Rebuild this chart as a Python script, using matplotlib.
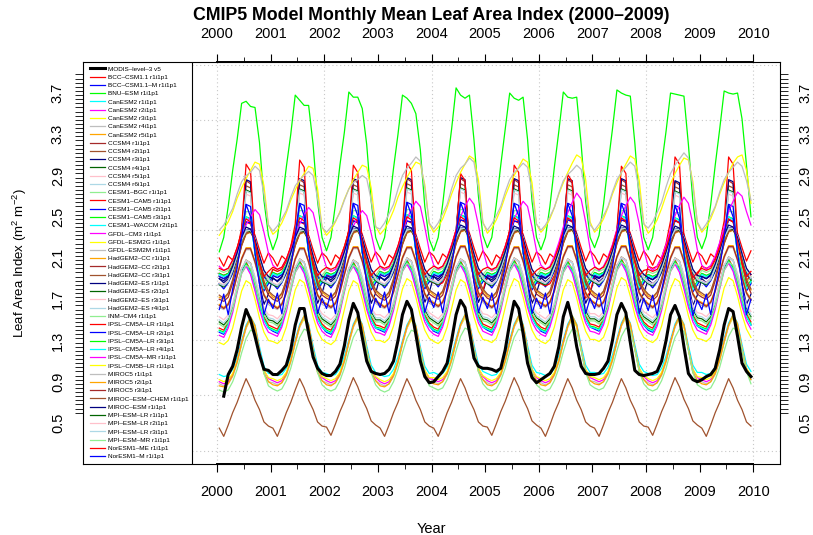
import numpy as np
import matplotlib.pyplot as plt
from matplotlib.patches import Rectangle

plt.rcParams['font.family'] = ['Liberation Sans', 'DejaVu Sans']
plt.rcParams['mathtext.fontset'] = 'custom'
plt.rcParams['mathtext.rm'] = 'Liberation Sans'
plt.rcParams['mathtext.it'] = 'Liberation Sans:italic'

# ---------------------------------------------------------------- data
year_ticks = list(range(2000, 2011))
lai_ticks = [0.5, 0.9, 1.3, 1.7, 2.1, 2.5, 2.9, 3.3, 3.7]

# MODIS monthly mean LAI, Jan 2000 .. Dec 2009 (Jan 2000 missing)
modis = [
    np.nan, 0.76, 0.97, 1.05, 1.21, 1.43, 1.60, 1.50, 1.34, 1.16, 1.02, 1.01,
    0.97, 0.97, 1.01, 1.06, 1.21, 1.45, 1.61, 1.61, 1.37, 1.14, 1.03, 0.98,
    0.96, 0.96, 1.00, 1.07, 1.25, 1.50, 1.66, 1.57, 1.33, 1.10, 1.00, 0.98,
    0.97, 0.98, 1.02, 1.10, 1.30, 1.55, 1.68, 1.60, 1.36, 1.10, 0.95, 0.89,
    0.90, 0.95, 1.00, 1.08, 1.30, 1.55, 1.69, 1.62, 1.38, 1.13, 1.05, 1.03,
    1.03, 1.02, 1.00, 1.03, 1.21, 1.47, 1.68, 1.61, 1.37, 1.08, 0.94, 0.89,
    0.92, 0.95, 0.98, 1.05, 1.24, 1.53, 1.67, 1.50, 1.24, 1.05, 0.98, 0.97,
    0.97, 0.98, 1.03, 1.10, 1.30, 1.55, 1.66, 1.57, 1.28, 1.01, 0.97, 0.96,
    0.97, 0.98, 1.00, 1.10, 1.30, 1.55, 1.64, 1.53, 1.24, 0.98, 0.92, 0.90,
    0.92, 0.95, 0.97, 1.03, 1.21, 1.45, 1.61, 1.58, 1.34, 1.08, 1.00, 0.95,
]

bnu_esm = [
    2.16, 2.30, 2.60, 2.95, 3.25, 3.60, 3.62, 3.57, 3.56, 3.22, 2.66, 2.32,
    2.18, 2.30, 2.62, 2.98, 3.30, 3.68, 3.63, 3.58, 3.58, 3.20, 2.65, 2.30,
    2.17, 2.30, 2.62, 3.00, 3.32, 3.71, 3.66, 3.66, 3.55, 3.20, 2.65, 2.30,
    2.18, 2.30, 2.60, 2.97, 3.30, 3.68, 3.65, 3.60, 3.50, 3.15, 2.60, 2.28,
    2.17, 2.30, 2.62, 3.00, 3.35, 3.75, 3.68, 3.65, 3.68, 3.25, 2.70, 2.32,
    2.20, 2.30, 2.62, 3.00, 3.35, 3.70, 3.65, 3.63, 3.66, 3.25, 2.65, 2.30,
    2.18, 2.30, 2.60, 2.98, 3.33, 3.71, 3.66, 3.65, 3.66, 3.20, 2.65, 2.30,
    2.20, 2.32, 2.62, 3.00, 3.35, 3.73, 3.70, 3.68, 3.67, 3.22, 2.66, 2.30,
    2.18, 2.30, 2.60, 3.00, 3.33, 3.70, 3.69, 3.68, 3.67, 3.20, 2.65, 2.30,
    2.19, 2.31, 2.62, 3.00, 3.35, 3.72, 3.70, 3.69, 3.70, 3.45, 3.00, 2.50,
]

gfdl_cm3 = [
    2.02, 1.98, 2.00, 2.08, 2.18, 2.30, 2.42, 2.50, 2.57, 2.52, 2.35, 2.15,
    2.03, 1.99, 2.01, 2.09, 2.19, 2.31, 2.43, 2.52, 2.59, 2.54, 2.36, 2.15,
    2.01, 1.97, 1.99, 2.07, 2.17, 2.29, 2.41, 2.49, 2.56, 2.51, 2.34, 2.14,
    2.02, 1.98, 2.01, 2.10, 2.21, 2.35, 2.48, 2.57, 2.65, 2.60, 2.40, 2.17,
    2.03, 1.99, 2.02, 2.11, 2.23, 2.37, 2.50, 2.60, 2.68, 2.62, 2.42, 2.18,
    2.02, 1.98, 2.01, 2.10, 2.21, 2.35, 2.48, 2.57, 2.65, 2.60, 2.40, 2.17,
    2.03, 1.99, 2.02, 2.12, 2.25, 2.40, 2.54, 2.64, 2.73, 2.67, 2.45, 2.19,
    2.02, 1.98, 2.02, 2.11, 2.23, 2.38, 2.51, 2.61, 2.69, 2.63, 2.43, 2.18,
    2.02, 1.98, 2.02, 2.11, 2.23, 2.38, 2.51, 2.61, 2.69, 2.63, 2.43, 2.18,
    2.03, 1.99, 2.03, 2.12, 2.25, 2.40, 2.55, 2.65, 2.74, 2.70, 2.55, 2.42,
]

gfdl_esm2g = [
    2.32, 2.38, 2.45, 2.55, 2.68, 2.78, 2.87, 2.95, 3.03, 3.01, 2.80, 2.42,
    2.33, 2.37, 2.44, 2.54, 2.66, 2.76, 2.85, 2.92, 2.99, 2.97, 2.77, 2.40,
    2.32, 2.37, 2.45, 2.55, 2.67, 2.77, 2.86, 2.93, 3.00, 2.98, 2.78, 2.41,
    2.33, 2.38, 2.46, 2.56, 2.69, 2.79, 2.88, 2.96, 3.03, 3.01, 2.81, 2.43,
    2.35, 2.40, 2.48, 2.59, 2.72, 2.83, 2.93, 3.01, 3.09, 3.06, 2.86, 2.45,
    2.34, 2.39, 2.47, 2.57, 2.70, 2.81, 2.90, 2.98, 3.06, 3.03, 2.83, 2.43,
    2.35, 2.40, 2.48, 2.59, 2.72, 2.83, 2.93, 3.02, 3.10, 3.07, 2.86, 2.45,
    2.35, 2.40, 2.48, 2.59, 2.72, 2.83, 2.93, 3.01, 3.09, 3.06, 2.85, 2.44,
    2.34, 2.39, 2.47, 2.58, 2.71, 2.82, 2.92, 3.00, 3.07, 3.05, 2.84, 2.44,
    2.35, 2.40, 2.48, 2.59, 2.72, 2.83, 2.93, 3.02, 3.08, 3.10, 2.95, 2.63,
]

gfdl_esm2m = [
    2.37, 2.42, 2.50, 2.58, 2.72, 2.84, 2.90, 2.93, 2.99, 2.95, 2.72, 2.42,
    2.36, 2.41, 2.48, 2.56, 2.69, 2.80, 2.86, 2.90, 2.94, 2.90, 2.68, 2.40,
    2.35, 2.40, 2.46, 2.54, 2.66, 2.77, 2.83, 2.86, 2.90, 2.87, 2.66, 2.40,
    2.38, 2.44, 2.53, 2.62, 2.77, 2.90, 2.97, 3.02, 3.08, 3.04, 2.78, 2.44,
    2.38, 2.44, 2.53, 2.62, 2.77, 2.90, 2.97, 3.01, 3.07, 3.03, 2.78, 2.44,
    2.37, 2.43, 2.51, 2.60, 2.74, 2.86, 2.93, 2.97, 3.02, 2.98, 2.74, 2.43,
    2.37, 2.42, 2.50, 2.59, 2.73, 2.85, 2.91, 2.95, 3.00, 2.96, 2.73, 2.42,
    2.37, 2.43, 2.51, 2.60, 2.74, 2.86, 2.93, 2.98, 3.03, 2.99, 2.75, 2.43,
    2.39, 2.45, 2.54, 2.64, 2.79, 2.92, 3.00, 3.06, 3.12, 3.07, 2.80, 2.45,
    2.37, 2.43, 2.51, 2.60, 2.74, 2.86, 2.93, 2.98, 3.03, 2.99, 2.85, 2.66,
]

# mean annual cycles (Jan..Dec) of the remaining runs
bcc_csm1_1 = [2.10, 2.02, 2.12, 2.08, 2.20, 2.35, 2.45, 2.43, 2.32, 2.18, 2.05, 2.15]
bcc_csm1_1_m = [1.85, 1.80, 1.86, 1.95, 2.10, 2.30, 2.45, 2.44, 2.30, 2.10, 1.92, 1.86]
canesm2_r1 = [0.97, 0.95, 0.96, 1.02, 1.14, 1.30, 1.45, 1.53, 1.45, 1.24, 1.05, 0.98]
canesm2_r2 = [0.90, 0.88, 0.90, 0.97, 1.10, 1.28, 1.43, 1.52, 1.43, 1.21, 1.01, 0.93]
canesm2_r3 = [0.92, 0.90, 0.92, 0.98, 1.10, 1.27, 1.42, 1.50, 1.42, 1.20, 1.01, 0.94]
canesm2_r4 = [0.88, 0.86, 0.88, 0.95, 1.08, 1.26, 1.42, 1.52, 1.44, 1.20, 0.98, 0.90]
canesm2_r5 = [0.86, 0.85, 0.88, 0.96, 1.09, 1.27, 1.43, 1.53, 1.44, 1.20, 0.98, 0.90]
ccsm4_r1 = [1.92, 1.90, 1.93, 2.00, 2.14, 2.35, 2.85, 2.82, 2.20, 1.95, 1.80, 1.86]
ccsm4_r2 = [1.95, 1.93, 1.95, 2.02, 2.15, 2.33, 2.80, 2.78, 2.18, 1.96, 1.82, 1.88]
ccsm4_r3 = [1.90, 1.86, 1.90, 1.98, 2.12, 2.33, 2.86, 2.84, 2.15, 1.85, 1.65, 1.75]
ccsm4_r4 = [1.93, 1.91, 1.94, 2.01, 2.14, 2.32, 2.76, 2.74, 2.17, 1.94, 1.80, 1.86]
ccsm4_r5 = [1.94, 1.92, 1.95, 2.02, 2.15, 2.33, 2.72, 2.70, 2.18, 1.95, 1.81, 1.87]
ccsm4_r6 = [1.93, 1.91, 1.94, 2.01, 2.14, 2.34, 2.75, 2.73, 2.16, 1.94, 1.80, 1.87]
cesm1_bgc = [1.98, 1.96, 1.98, 2.05, 2.16, 2.32, 2.55, 2.55, 2.20, 2.00, 1.86, 1.92]
cesm1_cam5_r1 = [1.96, 1.94, 1.96, 2.04, 2.18, 2.40, 3.02, 2.95, 2.25, 1.98, 1.82, 1.88]
cesm1_cam5_r2 = [1.92, 1.90, 1.93, 2.00, 2.13, 2.32, 2.62, 2.60, 2.15, 1.92, 1.78, 1.85]
cesm1_cam5_r3 = [1.95, 1.93, 1.95, 2.02, 2.15, 2.30, 2.50, 2.48, 2.15, 1.95, 1.82, 1.88]
cesm1_waccm = [1.94, 1.92, 1.94, 2.01, 2.14, 2.30, 2.50, 2.47, 2.14, 1.94, 1.80, 1.87]
hadgem2_cc_r1 = [1.72, 1.70, 1.75, 1.88, 2.05, 2.22, 2.33, 2.35, 2.28, 2.08, 1.88, 1.77]
hadgem2_cc_r2 = [1.70, 1.68, 1.72, 1.86, 2.04, 2.22, 2.34, 2.36, 2.27, 2.05, 1.84, 1.74]
hadgem2_cc_r3 = [1.74, 1.71, 1.76, 1.89, 2.06, 2.23, 2.34, 2.35, 2.27, 2.07, 1.87, 1.78]
hadgem2_es_r1 = [1.85, 1.83, 1.88, 1.98, 2.12, 2.28, 2.37, 2.38, 2.30, 2.12, 1.96, 1.88]
hadgem2_es_r2 = [1.84, 1.82, 1.87, 1.97, 2.11, 2.27, 2.36, 2.36, 2.28, 2.10, 1.95, 1.87]
hadgem2_es_r3 = [1.86, 1.84, 1.88, 1.99, 2.13, 2.28, 2.36, 2.37, 2.29, 2.12, 1.97, 1.89]
hadgem2_es_r4 = [1.85, 1.83, 1.87, 1.98, 2.12, 2.28, 2.37, 2.37, 2.29, 2.11, 1.96, 1.88]
inm_cm4 = [0.82, 0.80, 0.82, 0.90, 1.02, 1.18, 1.32, 1.40, 1.38, 1.20, 0.98, 0.86]
ipsl_cm5a_lr_r1 = [1.42, 1.40, 1.48, 1.63, 1.83, 2.00, 2.06, 1.98, 1.83, 1.67, 1.53, 1.45]
ipsl_cm5a_lr_r2 = [1.38, 1.36, 1.45, 1.60, 1.80, 1.98, 2.04, 1.96, 1.80, 1.64, 1.50, 1.42]
ipsl_cm5a_lr_r3 = [1.40, 1.38, 1.46, 1.61, 1.81, 1.99, 2.05, 1.97, 1.81, 1.65, 1.51, 1.43]
ipsl_cm5a_lr_r4 = [1.39, 1.37, 1.45, 1.60, 1.80, 1.97, 2.03, 1.96, 1.80, 1.64, 1.50, 1.42]
ipsl_cm5a_mr = [1.35, 1.33, 1.42, 1.57, 1.77, 1.95, 2.02, 1.94, 1.78, 1.60, 1.46, 1.38]
ipsl_cm5b_lr = [1.28, 1.26, 1.30, 1.42, 1.60, 1.78, 1.88, 1.85, 1.70, 1.52, 1.38, 1.30]
miroc5_r1 = [1.62, 1.60, 1.64, 1.75, 1.92, 2.08, 2.18, 2.18, 2.05, 1.88, 1.73, 1.65]
miroc5_r2 = [1.65, 1.62, 1.66, 1.77, 1.94, 2.10, 2.20, 2.20, 2.07, 1.90, 1.75, 1.68]
miroc5_r3 = [1.64, 1.61, 1.65, 1.76, 1.93, 2.09, 2.19, 2.19, 2.06, 1.89, 1.74, 1.67]
miroc_esm_chem = [0.45, 0.37, 0.48, 0.60, 0.70, 0.82, 0.93, 0.84, 0.72, 0.63, 0.51, 0.47]
miroc_esm = [1.90, 1.88, 1.92, 2.02, 2.15, 2.30, 2.40, 2.38, 2.28, 2.12, 1.98, 1.92]
mpi_esm_lr_r1 = [1.48, 1.45, 1.50, 1.62, 1.80, 1.98, 2.08, 2.05, 1.90, 1.72, 1.58, 1.50]
mpi_esm_lr_r2 = [1.53, 1.50, 1.55, 1.66, 1.83, 2.00, 2.08, 2.05, 1.92, 1.75, 1.62, 1.55]
mpi_esm_lr_r3 = [1.50, 1.47, 1.52, 1.64, 1.81, 1.99, 2.07, 2.04, 1.90, 1.73, 1.60, 1.52]
mpi_esm_mr = [1.46, 1.43, 1.48, 1.60, 1.78, 1.95, 2.03, 2.00, 1.86, 1.68, 1.55, 1.48]
noresm1_me = [2.00, 1.98, 2.00, 2.08, 2.20, 2.35, 2.48, 2.45, 2.25, 2.05, 1.92, 1.97]
noresm1_m = [1.60, 1.75, 1.55, 1.80, 2.00, 2.30, 2.62, 2.50, 2.15, 1.85, 1.55, 1.70]

# year-to-year shifts (2000..2009) applied to those annual cycles
yr_clm4 = [0.00, 0.01, 0.01, 0.02, 0.02, 0.01, 0.01, 0.01, -0.01, 0.00]
yr_cam5 = [-0.01, 0.03, -0.02, 0.00, -0.10, -0.02, -0.11, -0.03, 0.06, 0.06]
yr_upper = [0.00, 0.00, 0.01, 0.01, 0.02, 0.01, 0.02, 0.02, 0.01, 0.02]
yr_mid = [0.00, 0.01, 0.00, 0.02, 0.01, 0.02, 0.01, 0.03, 0.02, 0.03]
yr_low = [0.00, 0.01, 0.01, 0.00, 0.02, 0.01, 0.01, 0.02, 0.01, 0.02]
yr_chem = [0.00, 0.00, 0.01, 0.00, 0.00, 0.01, 0.00, 0.00, 0.01, 0.00]

names = [
    'MODIS\u2013level\u20133 v5', 'BCC\u2013CSM1.1 r1i1p1', 'BCC\u2013CSM1.1\u2013M r1i1p1',
    'BNU\u2013ESM r1i1p1', 'CanESM2 r1i1p1', 'CanESM2 r2i1p1', 'CanESM2 r3i1p1',
    'CanESM2 r4i1p1', 'CanESM2 r5i1p1', 'CCSM4 r1i1p1', 'CCSM4 r2i1p1', 'CCSM4 r3i1p1',
    'CCSM4 r4i1p1', 'CCSM4 r5i1p1', 'CCSM4 r6i1p1', 'CESM1\u2013BGC r1i1p1',
    'CESM1\u2013CAM5 r1i1p1', 'CESM1\u2013CAM5 r2i1p1', 'CESM1\u2013CAM5 r3i1p1',
    'CESM1\u2013WACCM r2i1p1', 'GFDL\u2013CM3 r1i1p1', 'GFDL\u2013ESM2G r1i1p1',
    'GFDL\u2013ESM2M r1i1p1', 'HadGEM2\u2013CC r1i1p1', 'HadGEM2\u2013CC r2i1p1',
    'HadGEM2\u2013CC r3i1p1', 'HadGEM2\u2013ES r1i1p1', 'HadGEM2\u2013ES r2i1p1',
    'HadGEM2\u2013ES r3i1p1', 'HadGEM2\u2013ES r4i1p1', 'INM\u2013CM4 r1i1p1',
    'IPSL\u2013CM5A\u2013LR r1i1p1', 'IPSL\u2013CM5A\u2013LR r2i1p1', 'IPSL\u2013CM5A\u2013LR r3i1p1',
    'IPSL\u2013CM5A\u2013LR r4i1p1', 'IPSL\u2013CM5A\u2013MR r1i1p1', 'IPSL\u2013CM5B\u2013LR r1i1p1',
    'MIROC5 r1i1p1', 'MIROC5 r2i1p1', 'MIROC5 r3i1p1', 'MIROC\u2013ESM\u2013CHEM r1i1p1',
    'MIROC\u2013ESM r1i1p1', 'MPI\u2013ESM\u2013LR r1i1p1', 'MPI\u2013ESM\u2013LR r2i1p1',
    'MPI\u2013ESM\u2013LR r3i1p1', 'MPI\u2013ESM\u2013MR r1i1p1', 'NorESM1\u2013ME r1i1p1',
    'NorESM1\u2013M r1i1p1',
]

# colour cycle used for the model runs
palette = ['red', 'blue', '#00FF00', 'cyan', 'magenta', 'yellow', '#BEBEBE', 'orange',
           'brown', 'sienna', 'navy', 'darkgreen', 'pink', 'lightblue', 'lightgreen']


def repeat_cycle(clim, shifts):
    return np.concatenate([np.array(clim) + s for s in shifts])


models = [
    repeat_cycle(bcc_csm1_1, yr_upper), repeat_cycle(bcc_csm1_1_m, yr_upper), bnu_esm,
    repeat_cycle(canesm2_r1, yr_low), repeat_cycle(canesm2_r2, yr_low),
    repeat_cycle(canesm2_r3, yr_low), repeat_cycle(canesm2_r4, yr_low),
    repeat_cycle(canesm2_r5, yr_low),
    repeat_cycle(ccsm4_r1, yr_clm4), repeat_cycle(ccsm4_r2, yr_clm4),
    repeat_cycle(ccsm4_r3, yr_clm4), repeat_cycle(ccsm4_r4, yr_clm4),
    repeat_cycle(ccsm4_r5, yr_clm4), repeat_cycle(ccsm4_r6, yr_clm4),
    repeat_cycle(cesm1_bgc, yr_clm4), repeat_cycle(cesm1_cam5_r1, yr_cam5),
    repeat_cycle(cesm1_cam5_r2, yr_clm4), repeat_cycle(cesm1_cam5_r3, yr_clm4),
    repeat_cycle(cesm1_waccm, yr_clm4),
    gfdl_cm3, gfdl_esm2g, gfdl_esm2m,
    repeat_cycle(hadgem2_cc_r1, yr_upper), repeat_cycle(hadgem2_cc_r2, yr_upper),
    repeat_cycle(hadgem2_cc_r3, yr_upper), repeat_cycle(hadgem2_es_r1, yr_upper),
    repeat_cycle(hadgem2_es_r2, yr_upper), repeat_cycle(hadgem2_es_r3, yr_upper),
    repeat_cycle(hadgem2_es_r4, yr_upper),
    repeat_cycle(inm_cm4, yr_low),
    repeat_cycle(ipsl_cm5a_lr_r1, yr_mid), repeat_cycle(ipsl_cm5a_lr_r2, yr_mid),
    repeat_cycle(ipsl_cm5a_lr_r3, yr_mid), repeat_cycle(ipsl_cm5a_lr_r4, yr_mid),
    repeat_cycle(ipsl_cm5a_mr, yr_mid), repeat_cycle(ipsl_cm5b_lr, yr_mid),
    repeat_cycle(miroc5_r1, yr_upper), repeat_cycle(miroc5_r2, yr_upper),
    repeat_cycle(miroc5_r3, yr_upper), repeat_cycle(miroc_esm_chem, yr_chem),
    repeat_cycle(miroc_esm, yr_upper),
    repeat_cycle(mpi_esm_lr_r1, yr_mid), repeat_cycle(mpi_esm_lr_r2, yr_mid),
    repeat_cycle(mpi_esm_lr_r3, yr_mid), repeat_cycle(mpi_esm_mr, yr_mid),
    repeat_cycle(noresm1_me, yr_clm4), repeat_cycle(noresm1_m, yr_clm4),
]

months = np.arange(120)
t = 2000 + (months + 0.5) / 12.0

# ---------------------------------------------------------------- plot
fig = plt.figure(figsize=(8.13, 5.35), dpi=100)
ax = fig.add_axes([83 / 813, 71 / 535, 697 / 813, 402.3 / 535])
ax.set_xlim(1997.5, 2010.5)
ax.set_ylim(0.102, 4.004)

# dotted grid
for gy in [0.23, 0.77, 1.30, 1.84, 2.37, 2.90, 3.44, 3.97]:
    ax.axhline(gy, color='#c8c8c8', lw=0.8, ls=(0, (1, 2.5)), zorder=0)
for gx in range(2000, 2011, 2):
    ax.axvline(gx, color='#c8c8c8', lw=0.8, ls=(0, (1, 2.5)), zorder=0)

handles = []
for i, vals in enumerate(models):
    ln, = ax.plot(t, vals, color=palette[i % len(palette)], lw=0.9, zorder=2)
    handles.append(ln)
h_modis, = ax.plot(t, modis, color='black', lw=2.2, zorder=3)
handles = [h_modis] + handles

# legend occupies the left strip of the plot box
ax.add_patch(Rectangle((0, 0), 109 / 697, 1, transform=ax.transAxes,
                       facecolor='white', edgecolor='black', lw=0.8, zorder=4))
leg = ax.legend(handles, names, loc='upper left', bbox_to_anchor=(7 / 697, 0.989),
                borderaxespad=0, borderpad=0, frameon=False, fontsize=4.6,
                handlelength=2.35, handletextpad=0.5, labelspacing=0.435)
leg.set_zorder(5)

# axes: years on bottom and top, LAI on both sides
for s in ax.spines.values():
    s.set_linewidth(0.8)
ax.set_xticks(year_ticks)
ax.set_xticks([y + 0.5 for y in year_ticks[:-1]], minor=True)
ax.tick_params(axis='x', which='both', top=True, labeltop=True, direction='out',
               labelsize=10.5, pad=9)
ax.tick_params(axis='x', which='major', length=6)
ax.tick_params(axis='x', which='minor', length=3.5)
ax.plot([2000, 2010], [0, 0], transform=ax.get_xaxis_transform(), color='black',
        lw=1.4, clip_on=False, zorder=6)
ax.plot([2000, 2010], [1, 1], transform=ax.get_xaxis_transform(), color='black',
        lw=1.4, clip_on=False, zorder=6)

ax.set_yticks(lai_ticks)
ax.set_yticklabels([f'{v:.1f}' for v in lai_ticks])
ax.set_yticks(np.arange(0.60, 3.89, 0.04), minor=True)
ax.tick_params(axis='y', which='both', right=True, labelright=True, direction='out',
               labelsize=10.5, labelrotation=90)
ax.tick_params(axis='y', which='major', length=0, pad=13)
ax.tick_params(axis='y', which='minor', length=5.5)
for lab in ax.get_yticklabels():
    lab.set_va('center')

fig.text(431 / 813, 1 - 16 / 535, 'CMIP5 Model Monthly Mean Leaf Area Index (2000\u20132009)',
         ha='center', va='center', fontsize=12.8, fontweight='bold')
fig.text(431 / 813, 1 - 529 / 535, 'Year', ha='center', va='center', fontsize=10.5)
fig.text(20 / 813, 1 - 263 / 535, 'Leaf Area Index (m$^{2}$ m$^{-2}$)', ha='center',
         va='center', rotation=90, fontsize=9.5)

fig.savefig('out.png', dpi=100)
